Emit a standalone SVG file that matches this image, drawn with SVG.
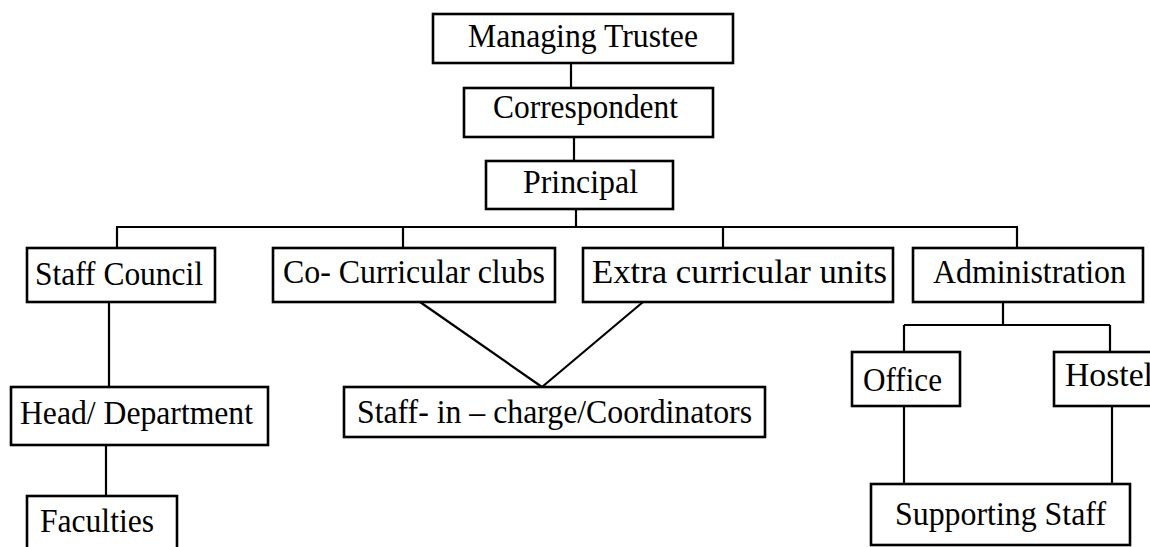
<svg xmlns="http://www.w3.org/2000/svg" width="1150" height="547" viewBox="0 0 1150 547">
<style>
.box{fill:#fff;stroke:#000;stroke-width:2.6}
.t{font-family:"Liberation Serif","Times New Roman",serif;font-size:33px;fill:#000}
.c{stroke:#000;stroke-width:2.2;fill:none}
</style>
<rect width="1150" height="547" fill="#fff"/>
<g id="connectors">
<line class="c" x1="571" y1="63" x2="571" y2="88"/>
<line class="c" x1="574" y1="137" x2="574" y2="161"/>
<line class="c" x1="576" y1="209" x2="576" y2="227"/>
<line class="c" x1="116" y1="227" x2="1018" y2="227"/>
<line class="c" x1="117" y1="227" x2="117" y2="248"/>
<line class="c" x1="403" y1="227" x2="403" y2="248"/>
<line class="c" x1="723" y1="227" x2="723" y2="248"/>
<line class="c" x1="1017" y1="227" x2="1017" y2="248"/>
<line class="c" x1="109" y1="302" x2="109" y2="387"/>
<line class="c" x1="106" y1="445" x2="106" y2="496"/>
<line class="c" x1="420" y1="302" x2="542" y2="387"/>
<line class="c" x1="643" y1="302" x2="542" y2="387"/>
<line class="c" x1="1003" y1="302" x2="1003" y2="325"/>
<line class="c" x1="904" y1="325" x2="1110" y2="325"/>
<line class="c" x1="904" y1="325" x2="904" y2="352"/>
<line class="c" x1="1110" y1="325" x2="1110" y2="352"/>
<line class="c" x1="904" y1="406" x2="904" y2="484"/>
<line class="c" x1="1112" y1="406" x2="1112" y2="484"/>
</g>
<g id="managing-trustee"><rect class="box" x="433" y="14" width="300" height="49"/><text class="t" x="468" y="47" textLength="230" lengthAdjust="spacingAndGlyphs">Managing Trustee</text></g>
<g id="correspondent"><rect class="box" x="464" y="88" width="249" height="49"/><text class="t" x="493" y="118" textLength="185" lengthAdjust="spacingAndGlyphs">Correspondent</text></g>
<g id="principal"><rect class="box" x="486" y="161" width="187" height="48"/><text class="t" x="523" y="193" textLength="115" lengthAdjust="spacingAndGlyphs">Principal</text></g>
<g id="staff-council"><rect class="box" x="27" y="248" width="188" height="54"/><text class="t" x="35" y="285" textLength="168" lengthAdjust="spacingAndGlyphs">Staff Council</text></g>
<g id="co-curricular"><rect class="box" x="273" y="248" width="282" height="54"/><text class="t" x="283" y="283" textLength="262" lengthAdjust="spacingAndGlyphs">Co- Curricular clubs</text></g>
<g id="extra-curricular"><rect class="box" x="583" y="248" width="310" height="54"/><text class="t" x="592" y="283" textLength="295" lengthAdjust="spacingAndGlyphs">Extra curricular units</text></g>
<g id="administration"><rect class="box" x="913" y="248" width="230" height="54"/><text class="t" x="933" y="283" textLength="193" lengthAdjust="spacingAndGlyphs">Administration</text></g>
<g id="head-department"><rect class="box" x="11" y="387" width="257" height="58"/><text class="t" x="20" y="424" textLength="233" lengthAdjust="spacingAndGlyphs">Head/ Department</text></g>
<g id="faculties"><rect class="box" x="27" y="496" width="150" height="60"/><text class="t" x="40" y="532" textLength="114" lengthAdjust="spacingAndGlyphs">Faculties</text></g>
<g id="staff-in-charge"><rect class="box" x="344" y="387" width="421" height="50"/><text class="t" x="357" y="423" textLength="395" lengthAdjust="spacingAndGlyphs">Staff- in – charge/Coordinators</text></g>
<g id="office"><rect class="box" x="852" y="352" width="108" height="54"/><text class="t" x="863" y="391" textLength="79" lengthAdjust="spacingAndGlyphs">Office</text></g>
<g id="hostel"><rect class="box" x="1054" y="352" width="110" height="54"/><text class="t" x="1065" y="386" textLength="88" lengthAdjust="spacingAndGlyphs">Hostel</text></g>
<g id="supporting-staff"><rect class="box" x="871" y="484" width="259" height="61"/><text class="t" x="895" y="525" textLength="211" lengthAdjust="spacingAndGlyphs">Supporting Staff</text></g>
</svg>
